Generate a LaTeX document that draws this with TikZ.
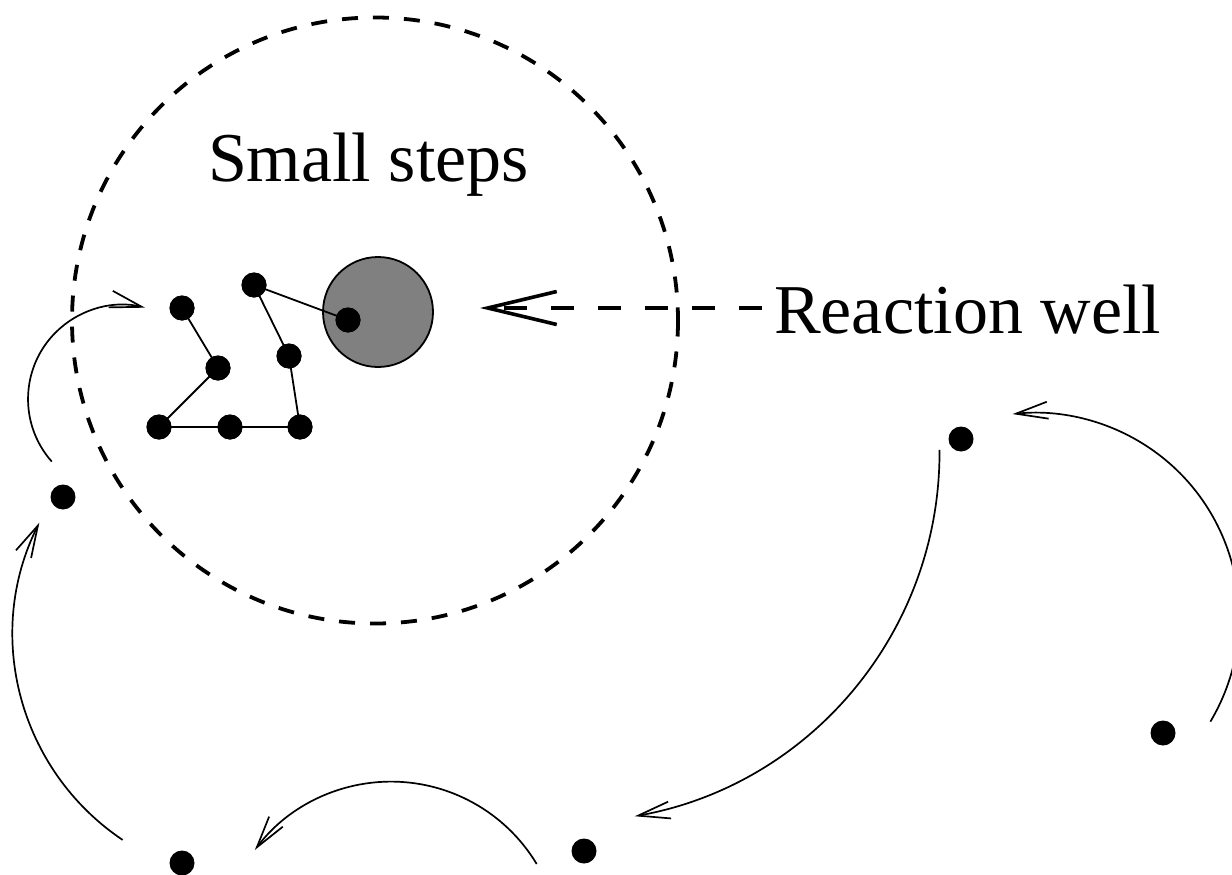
\documentclass[tikz,border=0pt]{standalone}
\usepackage{fontspec}
\setmainfont{Liberation Serif}
\usetikzlibrary{arrows.meta}
\begin{document}
\begin{tikzpicture}[x=1pt,y=-1pt,
  dot/.style={circle,fill=black,inner sep=0pt,minimum size=25pt},
  link/.style={line width=1.8pt},
  hop/.style={line width=1.7pt,-{Straight Barb[length=32pt,width=17pt]}},
  bigdash/.style={line width=3.8pt,dash pattern=on 16pt off 15pt},
  lbl/.style={font=\fontsize{70}{84}\selectfont,inner sep=0pt}]
\useasboundingbox (0,0) rectangle (1232,875);
% dashed region
\draw[bigdash] (375,320.5) circle[radius=303];
% reaction well
\draw[line width=1.8pt,fill=gray] (378,312) circle[radius=55];
% labels
\node[lbl,anchor=base] (ss) at (368.5,181) {Small steps};
\node[lbl,anchor=base west] (rw) at (774,333) {Reaction well};
\coordinate (rwl) at (762,308);
\coordinate (tipw) at (480,308);
\draw[line width=3.6pt,dash pattern=on 23pt off 24pt,-{Straight Barb[length=69pt,width=33pt]}] (rwl) -- (tipw);
% small-step dots
\node[dot] (d1) at (182,308) {};
\node[dot] (d2) at (218,368) {};
\node[dot] (d3) at (159,427) {};
\node[dot] (d4) at (230,427) {};
\node[dot] (d5) at (300,427) {};
\node[dot] (d6) at (289,356) {};
\node[dot] (d7) at (254,285) {};
\node[dot] (d8) at (348,320) {};
\draw[link] (d1.center) -- (d2.center) -- (d3.center) -- (d4.center) -- (d5.center) -- (d6.center) -- (d7.center) -- (d8.center);
\foreach \n in {d1,d2,d3,d4,d5,d6,d7,d8} \node[dot] at (\n) {};
% outer dots
\node[dot] (e1) at (63,497) {};
\node[dot] (e2) at (961,439) {};
\node[dot] (e3) at (1163,733) {};
\node[dot] (e4) at (584,851) {};
\node[dot] (e5) at (182,863) {};
% long hops
\draw[hop] (51.8,461.6) arc[start angle=138.4,end angle=284,radius=94.2];
\draw[hop] (122.6,839.9) arc[start angle=123.9,end angle=206.7,radius=248];
\draw[hop] (536.7,864) arc[start angle=-31,end angle=-143.3,radius=169.9];
\draw[hop] (939.5,449.9) arc[start angle=-0.4,end angle=79.9,radius=369.5];
\draw[hop] (1210.4,721.6) arc[start angle=30.8,end angle=-96.3,radius=204.2];
\end{tikzpicture}
\end{document}
